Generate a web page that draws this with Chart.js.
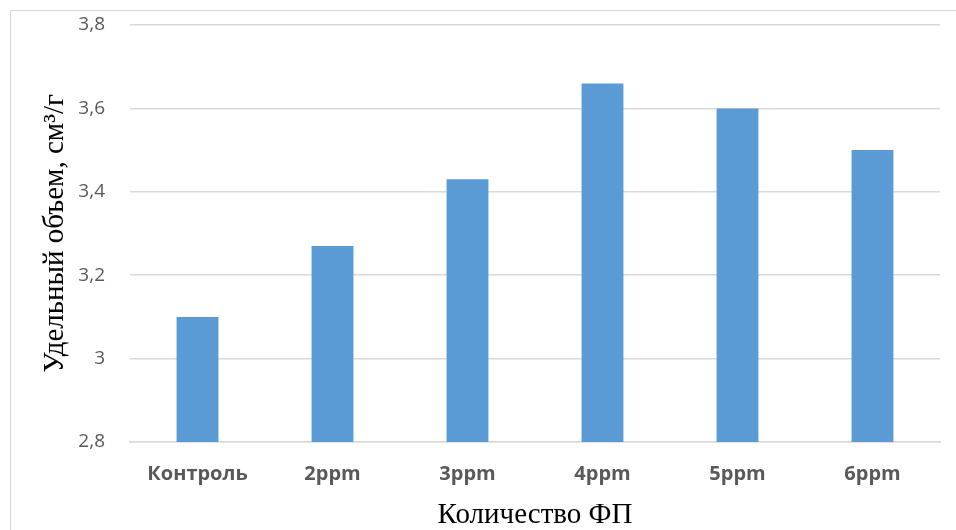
<!DOCTYPE html>
<html>
<head>
<meta charset="utf-8">
<script src="https://cdn.jsdelivr.net/npm/chart.js@4.4.0/dist/chart.umd.min.js"></script>
<style>
    html, body { margin: 0; padding: 0; background: #fff; }
    #wrap { position: relative; width: 956px; height: 530px; }
    #frame {
        position: absolute; left: 10px; top: 10px; right: -2px; bottom: -2px;
        border: 1px solid #d9d9d9; pointer-events: none;
    }
    canvas { position: absolute; left: 0; top: 0; }
</style>
</head>
<body>
<div id="wrap">
    <canvas id="myChart" width="956" height="530"></canvas>
    <div id="frame"></div>
</div>
<script>
const categories = ['Контроль', '2ppm', '3ppm', '4ppm', '5ppm', '6ppm'];
const volumes = [3.1, 3.27, 3.43, 3.66, 3.6, 3.5];
const yTitle = 'Удельный объем, см³/г';
const xTitle = 'Количество ФП';

/* comma decimals like the original */
const fmt = (v) => String(+v.toFixed(1)).replace('.', ',');

/* axis titles in serif */
const axisTitles = {
    id: 'axisTitles',
    afterDraw(chart) {
        const c = chart.ctx;
        const area = chart.chartArea;
        c.save();
        c.fillStyle = '#000';
        c.font = '29px "Liberation Serif"';
        c.textAlign = 'center';
        c.textBaseline = 'middle';
        c.fillText(xTitle, (area.left + area.right) / 2, 515);
        c.translate(55, (area.top + area.bottom) / 2);
        c.rotate(-Math.PI / 2);
        c.fillText(yTitle, 0, 0);
        c.restore();
    }
};

let ctx = document.querySelector('#myChart').getContext('2d');
let barChart = new Chart(ctx, {
    type: 'bar',
    data: {
        labels: categories,
        datasets: [{
            data: volumes,
            backgroundColor: '#5b9bd5',
            barPercentage: 0.31,
            categoryPercentage: 1,
        }]
    },
    options: {
        responsive: false,
        animation: false,
        layout: { padding: { top: 25, right: 16, left: 0, bottom: 0 } },
        plugins: { legend: { display: false }, tooltip: { enabled: false } },
        scales: {
            x: {
                grid: { display: false, drawTicks: false },
                border: { color: '#d9d9d9', width: 1.5 },
                ticks: {
                    color: '#595959', padding: 20,
                    font: { family: 'Open Sans', size: 20, weight: 'bold' }
                },
                afterFit: (s) => { s.height = 88; }
            },
            y: {
                min: 2.8, max: 3.8,
                /* invisible tick marks give the label gap without extra top padding */
                grid: { color: '#d9d9d9', lineWidth: 1.5, tickLength: 23, tickColor: 'rgba(0,0,0,0)' },
                border: { display: false },
                ticks: {
                    stepSize: 0.2, padding: 2, color: '#595959',
                    font: { family: 'Open Sans', size: 19 },
                    callback: fmt
                },
                afterFit: (s) => { s.width = 130; }
            }
        }
    },
    plugins: [axisTitles]
});
</script>
</body>
</html>
